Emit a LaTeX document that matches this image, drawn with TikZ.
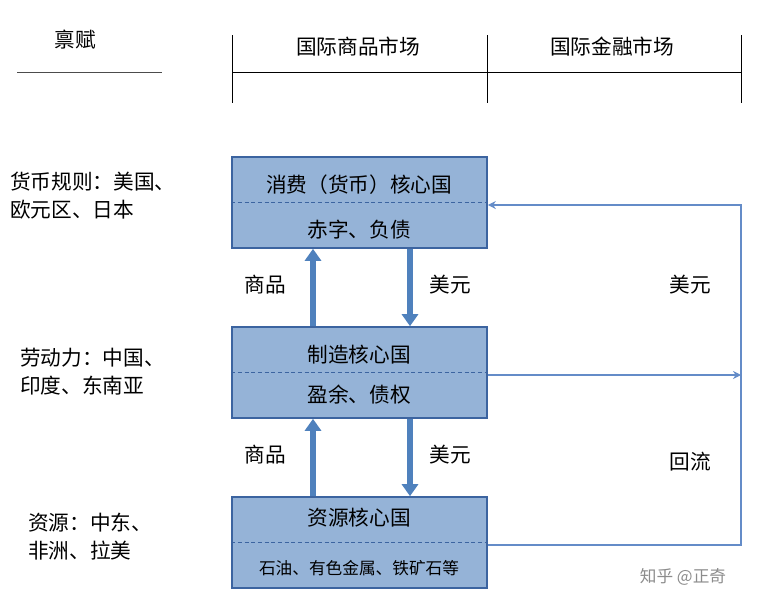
\documentclass[tikz,border=0pt]{standalone}
\usepackage{fontspec}
\setmainfont{Noto Sans CJK SC}
\usetikzlibrary{arrows.meta}
\definecolor{bfill}{RGB}{149,179,215}
\definecolor{bdraw}{RGB}{60,100,160}
\definecolor{thin}{RGB}{100,140,200}
\definecolor{fat}{RGB}{79,129,189}
\begin{document}
\begin{tikzpicture}[x=0.75pt,y=-0.75pt,
  txt/.style={font=\fontsize{15.5}{21}\selectfont,text=black,inner sep=0},
  ltxt/.style={txt,align=left,anchor=north west},
  boxst/.style={draw=bdraw,fill=bfill,line width=1.2pt,minimum width=255*0.75pt,minimum height=91*0.75pt,inner sep=0},
  fatarrow/.style={draw=fat,line width=5pt,-{Triangle[width=12pt,length=9pt]}},
  flow/.style={draw=thin,line width=0.8pt}]
\useasboundingbox (0,0) rectangle (766,608);
\node[txt] (bf) at (75,40) {禀赋};
\draw[black!70] (17,72) -- (162,72);
\foreach \x/\n in {232/va,487/vb,741/vc} \draw[thin] (\x,35) -- (\x,103);
\draw[thin] (232,72) -- (741,72);
\node[txt] (h1) at (358,47) {国际商品市场};
\node[txt] (h2) at (612,47) {国际金融市场};
\node[boxst] (b1) at (359.5,202.5) {};
\node[boxst] (b2) at (359.5,372.5) {};
\node[boxst] (b3) at (359.5,542.5) {};
\foreach \b in {b1,b2,b3} \draw[bdraw,densely dashed,line width=0.4pt] (\b.west) -- (\b.east);
\node[txt] at (359,185) {消费（货币）核心国};
\node[txt] at (359,230) {赤字、负债};
\node[txt] at (359,355) {制造核心国};
\node[txt] at (359,395) {盈余、债权};
\node[txt] at (359,518) {资源核心国};
\node[txt,font=\fontsize{12.5}{14}\selectfont] at (359,568) {石油、有色金属、铁矿石等};
\draw[fatarrow] (b2.north -| 313,0) -- (b1.south -| 313,0);
\draw[fatarrow] (b1.south -| 410,0) -- (b2.north -| 410,0);
\draw[fatarrow] (b3.north -| 313,0) -- (b2.south -| 313,0);
\draw[fatarrow] (b2.south -| 410,0) -- (b3.north -| 410,0);
\node[txt] at (265,285) {商品};
\node[txt] at (450,285) {美元};
\node[txt] at (265,455) {商品};
\node[txt] at (450,455) {美元};
\coordinate (r3) at (741,545);
\coordinate (r1) at (741,205);
\coordinate (r2) at (741,375);
\draw[flow,-{Stealth[length=6pt,width=6pt]}] (b3.east |- r3) -- (r3) -- (r1) -- (b1.east |- r1);
\draw[flow,-{Stealth[length=6pt,width=6pt]}] (b2.east |- r2) -- (r2);
\node[txt] at (690,285) {美元};
\node[txt] at (690,462) {回流};
\node[ltxt] at (10,172) {货币规则：美国、\\欧元区、日本};
\node[ltxt] at (20,348) {劳动力：中国、\\印度、东南亚};
\node[ltxt] at (28,513) {资源：中东、\\非洲、拉美};
\node[txt,text=black!45,font=\fontsize{12.5}{14}\selectfont] at (683,577) {知乎 @正奇};
\end{tikzpicture}
\end{document}
